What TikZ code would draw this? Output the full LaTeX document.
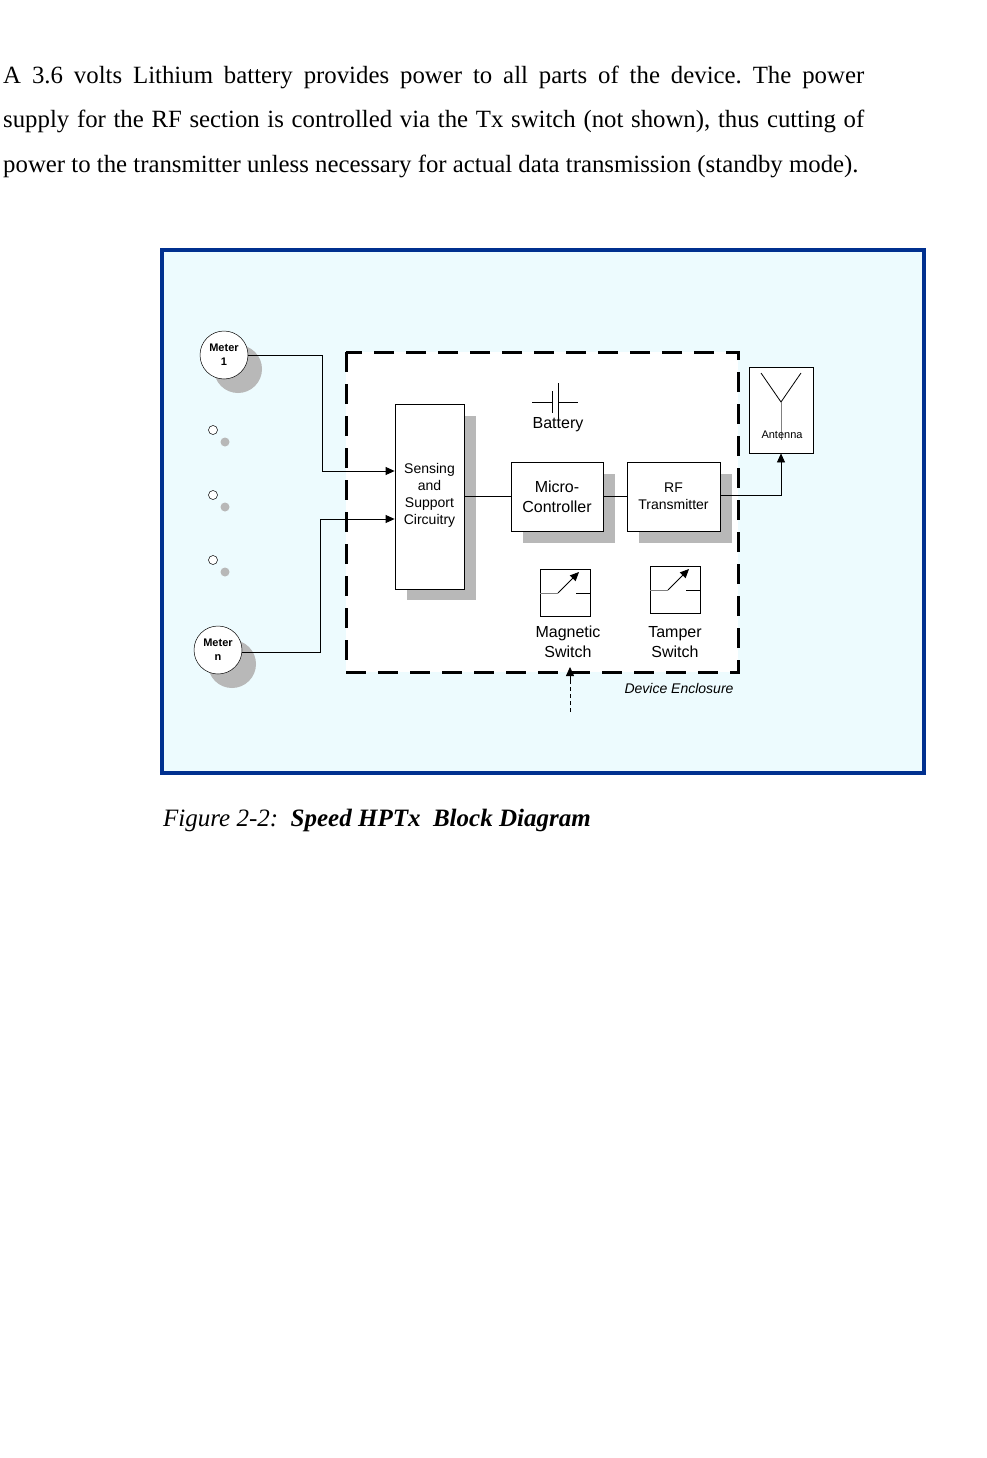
\documentclass[tikz,border=0pt]{standalone}
\usepackage{fontspec}
\setmainfont{Liberation Serif}
\newfontfamily\arial{Liberation Sans}
\usetikzlibrary{arrows.meta}
\definecolor{framebl}{HTML}{00308F}
\definecolor{bgc}{HTML}{EDFBFE}
\definecolor{shad}{HTML}{B8B8B8}
\frenchspacing
\begin{document}
\begin{tikzpicture}[x=1pt,y=-1pt,
  blk/.style={draw,fill=white,line width=0.8pt},
  shd/.style={fill=shad},
  wire/.style={line width=0.8pt},
  arr/.style={wire,-{Triangle[length=9pt,width=8pt]}},
  lbl/.style={font=\arial\fontsize{14}{17}\selectfont,align=center,inner sep=0pt}]
\useasboundingbox (0,0) rectangle (986,1458);
% paragraph
\node[anchor=base west,inner sep=0] (p1) at (3,84) {\fontsize{24.8}{28}\selectfont\makebox[861pt][s]{A 3.6 volts Lithium battery provides power to all parts of the device. The power}};
\node[anchor=base west,inner sep=0] (p2) at (3,128) {\fontsize{24.8}{28}\selectfont\makebox[861pt][s]{supply for the RF section is controlled via the Tx switch (not shown), thus cutting of}};
\node[anchor=base west,inner sep=0] (p3) at (3,173) {\fontsize{24.8}{28}\selectfont power to the transmitter unless necessary for actual data transmission (standby mode).};
% frame
\draw[framebl,line width=4pt,fill=bgc] (162,250) rectangle (924,773);
\draw[fill=white,line width=3pt,dash pattern=on 20pt off 12pt] (346,352) rectangle (738,672);
% meters
\fill[shad] (238,369) circle (24);
\node[circle,draw,fill=white,minimum size=48pt,inner sep=0,font=\arial\bfseries\fontsize{11}{14}\selectfont,align=center,line width=0.5pt] (m1) at (224,355) {Meter\\1};
\fill[shad] (232,664) circle (24);
\node[circle,draw,fill=white,minimum size=48pt,inner sep=0,font=\arial\bfseries\fontsize{11}{14}\selectfont,align=center,line width=0.5pt] (mn) at (218,650) {Meter\\n};
\foreach \y in {430,495,560}{
  \draw[line width=0.5pt,fill=white] (213,\y) circle (4.5);
  \fill[shad] (225,\y+12) circle (4.5);}
% sensing
\fill[shd] (407,416) rectangle (476,600);
\node[blk,minimum width=69pt,minimum height=185pt,inner sep=0] (sens) at (429.5,496.5) {};
\node[lbl] at (429.5,495) {Sensing\\and\\Support\\Circuitry};
% micro
\fill[shd] (523,474) rectangle (615,543);
\node[blk,minimum width=92pt,minimum height=69pt,inner sep=0,lbl,font=\arial\fontsize{16}{20}\selectfont] (mc) at (557,496.5) {Micro-\\Controller};
% RF
\fill[shd] (639,474) rectangle (732,543);
\node[blk,minimum width=93pt,minimum height=69pt,inner sep=0,lbl] (rf) at (673.5,496.5) {RF\\Transmitter};
% antenna
\node[blk,minimum width=64pt,minimum height=86pt,inner sep=0] (ant) at (781,410) {};
\draw[wire] (761,373) -- (781,402) -- (801,373);
\draw[line width=0.8pt,gray] (781,402) -- (781,440);
\node[font=\arial\fontsize{11}{13}\selectfont,inner sep=0] (antl) at (782,435) {Antenna};
% battery
\draw[wire] (532,402) -- (552,402) (558,402) -- (578,402);
\draw[wire] (552,391) -- (552,413) (558,383) -- (558,418);
\node[lbl,font=\arial\fontsize{16}{20}\selectfont] (bat) at (558,425) {Battery};
% switches
\foreach \n/\x/\y in {ms/540/569,ts/650/566}{
  \node[blk,minimum width=50pt,minimum height=47pt,inner sep=0,anchor=north west] (\n) at (\x,\y) {};
  \draw[gray,line width=0.8pt] (\x,\y+24) -- (\x+18,\y+24);
  \draw[wire,-{Triangle[length=9pt,width=8pt]}] (\x+18,\y+24) -- (\x+39,\y+3);
  \draw[wire] (\x+36,\y+24) -- (\x+50,\y+24);
}
\node[lbl,font=\arial\fontsize{16}{20}\selectfont] (msl) at (568,642) {Magnetic\\Switch};
\node[lbl,font=\arial\fontsize{16}{20}\selectfont] (tsl) at (675,642) {Tamper\\Switch};
\node[font=\arial\itshape\fontsize{14}{17}\selectfont,inner sep=0] (de) at (679,688) {Device Enclosure};
\coordinate (dt) at (570,712);
\coordinate (dh) at (570,667);
\draw[wire,dash pattern=on 4pt off 3pt] (dt) -- (570,678);
\draw[wire,-{Triangle[length=9pt,width=8pt]}] (570,680) -- (dh);
% connections
\coordinate (m1e) at (248,355);
\coordinate (mne) at (242,652);
\draw[arr] (m1e) -- (322,355) |- (sens.west |- 0,471);
\draw[arr] (mne) -- (320,652) |- (sens.west |- 0,519);
\draw[wire] (sens.east |- 0,496) -- (mc.west |- 0,496);
\draw[wire] (mc.east |- 0,496) -- (rf.west |- 0,496);
\draw[arr] (rf.east |- 0,495) -| (ant.south);
% caption
\node[anchor=base west,inner sep=0,font=\fontsize{25}{28}\selectfont] (cap) at (163,826) {\textit{Figure 2-2:\ \ }\textbf{\textit{Speed HPTx\ \ Block Diagram}}};
\end{tikzpicture}
\end{document}
